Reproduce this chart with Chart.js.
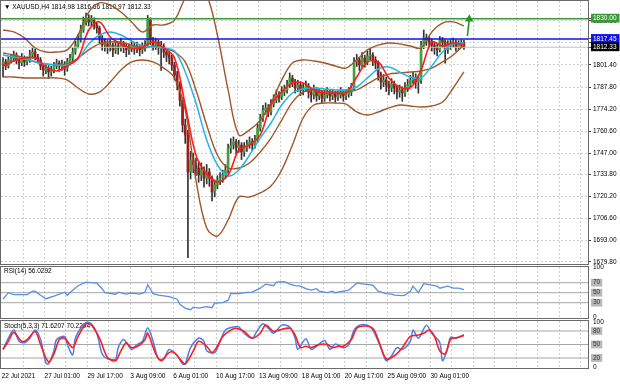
<!DOCTYPE html>
<html><head><meta charset="utf-8">
<script src="https://cdn.jsdelivr.net/npm/chart.js@4.4.1/dist/chart.umd.min.js"></script>
<style>
html,body{margin:0;padding:0;background:#fff;}
body{width:620px;height:384px;position:relative;overflow:hidden;}
canvas{position:absolute;left:0;display:block;}
</style></head><body>
<canvas id="cMain" width="620" height="265" style="top:0;width:620px;height:265px"></canvas>
<canvas id="cRsi" width="620" height="57" style="top:262px;width:620px;height:57px"></canvas>
<canvas id="cSto" width="620" height="68" style="top:316px;width:620px;height:68px"></canvas>
<script>
// ---------------- DATA ----------------
const symbolTitle = '\u25BC XAUUSD,H4 1814.98 1816.66 1810.97 1812.33';
const rsiTitle = 'RSI(14) 56.0292';
const stochTitle = 'Stoch(5,3,3) 71.6207 70.2294';

const openP = [1802.0,1803.3,1800.8,1804.5,1805.7,1807.6,1804.5,1802.6,1805.7,1803.3,
1804.5,1807.6,1809.4,1806.3,1804.5,1800.8,1798.3,1799.5,1797.1,1798.3,
1800.8,1802.6,1800.8,1802.0,1799.5,1803.3,1805.7,1809.4,1813.7,1816.8,
1823.0,1828.0,1830.4,1828.0,1829.2,1826.1,1824.2,1818.1,1813.7,1814.4,
1812.5,1813.7,1810.7,1813.1,1811.9,1814.4,1812.5,1810.7,1811.9,1813.1,
1811.3,1812.5,1810.7,1811.9,1813.7,1829.2,1816.8,1813.7,1815.6,1811.9,
1813.1,1809.4,1807.6,1805.7,1801.4,1795.2,1789.1,1779.8,1764.4,1758.2,
1735.3,1742.8,1739.7,1737.8,1733.5,1736.6,1731.6,1735.3,1731.6,1723.0,
1727.3,1730.4,1731.6,1733.5,1736.6,1750.2,1752.0,1753.9,1750.2,1752.0,
1747.7,1750.2,1752.0,1753.9,1752.0,1755.1,1762.5,1768.7,1773.6,1774.9,
1772.4,1777.3,1779.8,1782.9,1781.6,1784.7,1786.0,1789.1,1793.4,1790.9,
1787.2,1789.1,1786.0,1787.2,1788.4,1784.7,1782.9,1786.0,1782.3,1784.1,
1781.0,1782.9,1784.7,1782.3,1783.5,1781.6,1782.9,1784.7,1782.3,1783.5,
1784.7,1787.2,1803.3,1804.5,1801.4,1805.7,1803.3,1806.9,1807.6,1804.5,
1802.6,1795.2,1790.9,1792.1,1789.1,1787.2,1789.7,1787.2,1784.7,1786.0,
1784.1,1787.2,1789.1,1792.1,1793.4,1790.9,1792.1,1813.7,1818.1,1816.8,
1815.6,1813.7,1811.9,1810.7,1816.8,1815.6,1810.7,1813.7,1814.4,1815.6,
1812.5,1814.4,1814.98];
const highP = [1806.0,1805.0,1806.5,1808.0,1810.0,1809.0,1806.0,1808.5,1807.0,1806.5,
1810.5,1812.0,1811.0,1808.0,1806.0,1802.5,1802.0,1801.0,1800.5,1803.0,
1805.0,1804.0,1804.5,1803.5,1805.5,1808.0,1812.0,1816.0,1820.0,1826.0,
1831.0,1833.5,1832.5,1832.0,1830.5,1828.0,1825.5,1819.5,1817.5,1816.5,
1817.0,1815.0,1816.5,1815.5,1818.0,1816.0,1814.5,1814.5,1816.0,1815.0,
1815.5,1814.0,1815.0,1816.5,1832.0,1830.5,1818.5,1818.0,1817.0,1816.0,
1814.5,1811.5,1810.0,1807.5,1803.0,1797.5,1791.0,1781.5,1768.0,1761.0,
1748.0,1747.0,1744.0,1741.5,1741.0,1738.5,1740.0,1737.5,1733.0,1730.5,
1733.0,1735.0,1736.5,1740.0,1752.5,1756.0,1757.0,1755.5,1755.0,1753.5,
1753.5,1755.0,1757.0,1756.0,1758.0,1765.0,1771.0,1776.5,1778.0,1777.0,
1780.0,1783.0,1786.0,1785.0,1788.0,1789.0,1792.0,1796.5,1795.0,1792.5,
1792.0,1791.0,1790.0,1791.5,1790.0,1787.0,1789.0,1787.5,1787.0,1785.5,
1786.0,1787.5,1786.0,1786.5,1785.0,1785.5,1787.5,1786.0,1786.0,1787.5,
1790.0,1806.0,1808.0,1806.0,1809.0,1807.5,1810.0,1811.5,1809.0,1806.5,
1804.0,1797.0,1795.5,1794.0,1791.5,1793.0,1791.5,1789.0,1789.0,1788.0,
1790.5,1792.5,1795.0,1797.0,1796.0,1795.0,1816.0,1823.0,1820.5,1819.0,
1817.5,1815.5,1814.0,1819.0,1818.5,1817.0,1816.5,1817.0,1818.0,1817.0,
1816.5,1817.0,1816.66];
const lowP = [1794.0,1798.5,1799.5,1802.5,1803.5,1802.0,1799.0,1801.0,1800.5,1801.5,
1803.0,1805.5,1804.5,1802.5,1798.5,1794.5,1796.0,1793.0,1794.5,1796.5,
1799.0,1797.5,1798.0,1795.0,1797.5,1801.5,1804.0,1808.0,1812.0,1815.5,
1821.5,1826.0,1825.5,1825.5,1823.5,1821.0,1815.0,1810.5,1810.0,1808.5,
1810.0,1806.5,1808.5,1808.0,1810.0,1809.0,1806.5,1808.0,1809.5,1808.0,
1809.0,1807.0,1808.5,1810.0,1812.0,1814.0,1810.5,1811.0,1808.0,1798.0,
1806.0,1803.5,1802.0,1798.0,1792.0,1786.0,1776.0,1760.0,1753.0,1682.5,
1731.0,1735.0,1733.0,1729.0,1730.0,1726.0,1728.0,1726.5,1717.5,1720.0,
1725.0,1727.5,1729.0,1731.5,1734.5,1747.0,1749.5,1746.5,1747.5,1743.0,
1745.0,1748.0,1750.0,1748.5,1750.0,1753.5,1760.5,1766.5,1771.0,1769.5,
1770.5,1775.5,1778.0,1778.5,1780.0,1782.5,1784.0,1787.5,1788.0,1784.0,
1785.0,1782.5,1783.0,1785.0,1781.0,1778.5,1780.5,1779.0,1780.0,1777.5,
1779.0,1781.0,1779.0,1780.0,1778.5,1779.5,1781.0,1779.0,1780.0,1781.5,
1782.5,1786.0,1800.5,1798.0,1800.0,1800.0,1801.5,1804.5,1801.0,1799.0,
1792.0,1786.5,1788.0,1785.0,1783.0,1785.0,1783.5,1780.5,1781.5,1779.0,
1782.0,1785.0,1787.5,1790.0,1787.0,1784.0,1790.0,1811.5,1813.5,1812.0,
1810.0,1808.0,1807.0,1809.5,1812.0,1802.5,1808.5,1811.0,1812.5,1810.0,
1811.0,1812.0,1810.97];
const closeP = [1803.3,1800.8,1804.5,1805.7,1807.6,1804.5,1802.6,1805.7,1803.3,1804.5,
1807.6,1809.4,1806.3,1804.5,1800.8,1798.3,1799.5,1797.1,1798.3,1800.8,
1802.6,1800.8,1802.0,1799.5,1803.3,1805.7,1809.4,1813.7,1816.8,1823.0,
1828.0,1830.4,1828.0,1829.2,1826.1,1824.2,1818.1,1813.7,1814.4,1812.5,
1813.7,1810.7,1813.1,1811.9,1814.4,1812.5,1810.7,1811.9,1813.1,1811.3,
1812.5,1810.7,1811.9,1813.7,1829.2,1816.8,1813.7,1815.6,1811.9,1813.1,
1809.4,1807.6,1805.7,1801.4,1795.2,1789.1,1779.8,1764.4,1758.2,1735.3,
1742.8,1739.7,1737.8,1733.5,1736.6,1731.6,1735.3,1731.6,1723.0,1727.3,
1730.4,1731.6,1733.5,1736.6,1750.2,1752.0,1753.9,1750.2,1752.0,1747.7,
1750.2,1752.0,1753.9,1752.0,1755.1,1762.5,1768.7,1773.6,1774.9,1772.4,
1777.3,1779.8,1782.9,1781.6,1784.7,1786.0,1789.1,1793.4,1790.9,1787.2,
1789.1,1786.0,1787.2,1788.4,1784.7,1782.9,1786.0,1782.3,1784.1,1781.0,
1782.9,1784.7,1782.3,1783.5,1781.6,1782.9,1784.7,1782.3,1783.5,1784.7,
1787.2,1803.3,1804.5,1801.4,1805.7,1803.3,1806.9,1807.6,1804.5,1802.6,
1795.2,1790.9,1792.1,1789.1,1787.2,1789.7,1787.2,1784.7,1786.0,1784.1,
1787.2,1789.1,1792.1,1793.4,1790.9,1792.1,1813.7,1818.1,1816.8,1815.6,
1813.7,1811.9,1810.7,1816.8,1815.6,1810.7,1813.7,1814.4,1815.6,1812.5,
1814.4,1814.98,1812.33];

// indicator lines, sampled every 4 bars (bar index in bandIdx)
const bandIdx = [0,4,8,12,16,20,24,28,32,36,40,44,48,52,56,60,64,68,72,76,80,84,88,92,96,100,104,108,112,116,120,124,128,132,136,140,144,148,152,156,160,164,168,172];
const maFast = [1800.8,1803.9,1805.7,1805.7,1800.2,1797.7,1800.8,1805.7,1823.0,1828.0,
1818.7,1814.4,1811.9,1812.5,1815.6,1811.9,1805.7,1776.7,1745.8,1734.1,
1729.2,1733.5,1748.9,1752.0,1758.2,1776.7,1784.7,1790.3,1790.3,1786.0,
1784.1,1784.1,1784.1,1794.0,1803.3,1803.3,1793.4,1787.8,1787.2,1798.3,
1815.6,1813.1,1815.0,1813.7];
const maSlow = [1807.6,1806.3,1805.1,1803.3,1802.0,1801.4,1801.4,1805.1,1814.4,1819.9,
1821.8,1819.9,1816.2,1813.1,1812.5,1811.9,1810.0,1797.1,1777.9,1755.1,
1739.7,1732.9,1736.6,1745.8,1756.3,1765.6,1776.7,1784.1,1786.6,1787.2,
1786.6,1786.0,1786.0,1787.8,1793.4,1798.9,1800.2,1797.1,1794.0,1793.4,
1800.8,1809.4,1814.4,1815.0];
const bbUpper = [1823.0,1821.8,1818.1,1811.9,1809.4,1809.4,1810.7,1819.9,1834.1,1839.7,
1838.4,1834.1,1828.0,1821.8,1826.1,1826.1,1829.2,1842.7,1850.8,1844.6,
1819.9,1786.0,1758.2,1761.3,1767.4,1777.9,1792.1,1802.6,1804.5,1803.9,
1802.6,1800.8,1799.5,1804.5,1810.7,1813.7,1815.0,1814.4,1813.1,1811.9,
1821.8,1827.3,1828.0,1825.5];
const bbMiddle = [1808.8,1807.6,1805.7,1803.3,1802.0,1801.4,1802.0,1805.7,1810.7,1814.4,
1815.6,1815.6,1813.7,1811.9,1813.1,1811.9,1809.4,1803.3,1786.0,1764.4,
1745.8,1737.8,1737.8,1740.9,1747.7,1756.3,1767.4,1778.5,1784.7,1786.0,
1785.4,1784.7,1784.7,1786.0,1789.7,1793.4,1795.8,1796.5,1797.1,1797.7,
1799.5,1803.3,1807.6,1813.7];
const bbLower = [1794.0,1794.0,1793.4,1793.4,1793.4,1793.4,1792.1,1787.2,1783.5,1784.7,
1790.9,1798.3,1803.3,1804.5,1803.3,1799.5,1793.4,1773.6,1730.4,1700.8,
1695.8,1705.7,1719.9,1719.9,1722.4,1726.7,1736.6,1752.0,1768.7,1776.7,
1777.9,1777.9,1777.3,1772.4,1770.5,1772.4,1774.9,1776.7,1776.1,1775.5,
1776.1,1778.5,1787.2,1797.1];

const levelGreen = 1830.00, levelBlue = 1817.45, lastPrice = 1812.33;
const arrowIdx = [173.3, 174.0], arrowVal = [1819.3, 1829.8];
const priceTicks = [1828.60,1815.00,1801.40,1787.80,1774.20,1760.60,1747.00,1733.80,1720.20,1706.60,1693.00,1679.80];

const rsiIdx = [0,2,4,9,11,12,14,16,19,21,23,24,26,28,31,35,37,38,42,43,46,48,51,53,54,56,58,62,65,66,68,70,71,73,76,78,79,82,84,85,88,90,93,96,98,101,102,105,107,109,111,113,115,117,118,121,123,124,127,129,132,135,138,140,143,145,146,149,150,152,153,155,157,160,162,163,166,168,170,172];
const rsiVal = [37,50,46,46,53,53,45,38,43,47,51,45,55,64,71,69,58,50,47,51,47,49,47,51,66,48,45,42,37,27,19,16,21,19,22,20,29,30,35,48,48,50,51,59,67,64,71,72,67,64,63,58,55,58,53,50,53,50,53,55,69,67,65,53,48,47,45,44,45,53,63,50,68,65,63,59,63,59,59,56.03];
const rsiLevels = [70, 50, 30];

const kIdx = [0,2,4,6,8,10,12,14,16,17,19,20,23,24,26,27,29,31,33,35,37,39,42,43,45,48,50,52,54,56,58,60,62,65,67,68,70,73,75,76,79,81,83,86,88,90,93,95,97,99,101,104,107,109,110,113,115,117,120,122,124,127,129,131,133,136,138,141,143,145,147,149,152,153,155,158,160,163,164,166,167,169,172];
const kVal = [39,64,82,57,54,64,82,61,9,7,36,61,68,50,27,64,86,99,96,75,29,18,18,43,61,39,50,57,87,57,18,18,39,25,7,7,43,64,57,36,32,57,82,89,89,75,64,82,96,86,75,93,89,64,39,63,39,46,59,39,51,43,49,82,93,93,82,43,14,25,43,39,57,82,64,93,75,54,14,43,66,64,71.62];
const dIdx = [0,2,4,7,9,12,14,17,19,21,23,26,28,31,33,36,39,42,44,46,48,51,53,54,57,59,62,64,66,68,71,73,76,78,80,82,85,87,90,93,96,98,101,103,107,109,111,113,115,118,121,123,125,127,130,132,135,138,140,143,146,149,152,155,157,159,161,163,165,167,170,172];
const dVal = [39,57,77,57,61,79,50,11,29,61,64,43,68,96,93,64,21,14,36,54,43,49,61,75,29,14,32,32,18,7,36,57,46,32,46,68,82,86,79,64,75,93,79,82,86,71,43,46,43,50,50,43,46,46,61,86,91,86,61,18,25,43,68,71,75,82,68,36,29,61,66,70.23];
const stochLevels = [80, 50, 20];

const dateTickIdx = [-0.5,15.5,31.5,47.5,63.5,79.5,95.5,111.5,127.5,143.5,159.5];
const dateLabels = ['22 Jul 2021','27 Jul 01:00','29 Jul 17:00','3 Aug 09:00','6 Aug 01:00','10 Aug 17:00','13 Aug 09:00','18 Aug 01:00','20 Aug 17:00','25 Aug 09:00','30 Aug 01:00'];

// ---------------- CHARTS ----------------
const FONT = "'Liberation Sans', Arial, sans-serif";
Chart.defaults.font.family = FONT;
Chart.defaults.font.size = 6.5;
Chart.defaults.color = '#000';
Chart.defaults.animation = false;

const X_MIN = -0.75, X_MAX = 218.3;
const gridPos = [];
for (let v = 7.5; v < X_MAX; v += 8) gridPos.push(v);

const BULL = '#3f9f3f', BEAR = '#9c1c1c', WICK = '#333333';
const BROWN = '#a0582a', RED = '#ff1c1c', CYAN = '#22b5e6';
const GREEN = '#3a9a3a', BLUE = '#1010f0';

function pts(idx, vals) { return idx.map((x, i) => ({x: x, y: vals[i]})); }
function hline(v) { return [{x: X_MIN, y: v}, {x: X_MAX, y: v}]; }

function xScale(showLabels) {
  const s = {
    type: 'linear', min: X_MIN, max: X_MAX, offset: false,
    afterBuildTicks(sc) {
      const set = new Set(gridPos.concat(dateTickIdx));
      sc.ticks = Array.from(set).sort((a, b) => a - b).map(v => ({value: v}));
    },
    afterFit(sc) {
      sc.paddingLeft = 0; sc.paddingRight = 0;
      if (showLabels) sc.height = 16;
    },
    grid: { offset: false, color: c => (c.tick && c.tick.value < 0) ? 'rgba(0,0,0,0)' : '#cfcfcf', drawTicks: false, lineWidth: 1 },
    border: { display: false, dash: [2, 2] },
    ticks: {
      display: showLabels, autoSkip: false, maxRotation: 0, minRotation: 0, align: 'start', padding: 4,
      font: {size: 6.5},
      callback: v => { const k = dateTickIdx.indexOf(v); return k >= 0 ? dateLabels[k] : ''; }
    }
  };
  return s;
}

function decor(titleText, dy) {
  return {
    id: 'decor',
    beforeDatasetsDraw(chart) {
      const {ctx, chartArea: a} = chart;
      ctx.save();
      ctx.font = '6.5px ' + FONT;
      ctx.fillStyle = '#000';
      ctx.textBaseline = 'middle';
      ctx.textAlign = 'left';
      ctx.fillText(titleText, a.left + 3, a.top + dy);
      ctx.restore();
    },
    afterDraw(chart) {
      const {ctx, chartArea: a} = chart;
      ctx.save();
      ctx.strokeStyle = '#6a6a6a';
      ctx.lineWidth = 1;
      ctx.strokeRect(a.left - 0.5, a.top - 0.5, a.right - a.left + 1, a.bottom - a.top + 1);
      ctx.restore();
    }
  };
}

const lineBase = { type: 'line', pointRadius: 0, fill: false, spanGaps: true };

// main price chart
const SPECIAL = [levelGreen, levelBlue, lastPrice];
const SPECIAL_BG = ['#3a9a3a', '#1010f0', '#000000'];
new Chart(document.getElementById('cMain'), {
  type: 'line',
  data: { datasets: [
    Object.assign({}, lineBase, { data: pts(arrowIdx, arrowVal), borderColor: '#1f9a1f', borderWidth: 1.6,
      pointRadius: [0, 3.2], pointStyle: 'triangle', pointBackgroundColor: '#1f9a1f', pointBorderColor: '#1f9a1f', order: 1 }),
    Object.assign({}, lineBase, { data: hline(levelBlue), borderColor: BLUE, borderWidth: 1.5, order: 2 }),
    Object.assign({}, lineBase, { data: hline(levelGreen), borderColor: GREEN, borderWidth: 1.5, order: 3 }),
    Object.assign({}, lineBase, { data: pts(bandIdx, maFast), borderColor: RED, borderWidth: 1.6, tension: 0.35, order: 4 }),
    Object.assign({}, lineBase, { data: pts(bandIdx, maSlow), borderColor: CYAN, borderWidth: 1.5, tension: 0.35, order: 5 }),
    Object.assign({}, lineBase, { data: pts(bandIdx, bbUpper), borderColor: BROWN, borderWidth: 1.4, tension: 0.35, order: 6 }),
    Object.assign({}, lineBase, { data: pts(bandIdx, bbMiddle), borderColor: BROWN, borderWidth: 1.4, tension: 0.35, order: 7 }),
    Object.assign({}, lineBase, { data: pts(bandIdx, bbLower), borderColor: BROWN, borderWidth: 1.4, tension: 0.35, order: 8 }),
    Object.assign({}, lineBase, { data: hline(lastPrice), borderColor: '#c4c4c4', borderWidth: 1, order: 9 }),
    { type: 'bar', data: closeP.map((c, i) => ({x: i, y: [openP[i], c]})),
      backgroundColor: closeP.map((c, i) => c >= openP[i] ? BULL : BEAR), barThickness: 2, stack: 'c', order: 19 },
    { type: 'bar', data: closeP.map((c, i) => ({x: i, y: [lowP[i], highP[i]]})),
      backgroundColor: WICK, barThickness: 1, stack: 'c', order: 20 }
  ]},
  options: {
    responsive: false, devicePixelRatio: 1, animation: false,
    layout: { autoPadding: false, padding: {top: 1, bottom: 1, left: 1, right: 0} },
    plugins: { legend: {display: false}, tooltip: {enabled: false} },
    scales: {
      x: xScale(false),
      y: {
        position: 'right', min: 1678.55, max: 1840.9, stacked: false, beginAtZero: false,
        afterFit(s) { s.width = 32; s.paddingTop = 0; s.paddingBottom = 0; },
        afterBuildTicks(s) { s.ticks = priceTicks.concat(SPECIAL).map(v => ({value: v})); },
        grid: { color: c => (c.tick && SPECIAL.includes(c.tick.value)) ? 'rgba(0,0,0,0)' : '#cfcfcf',
                tickColor: '#444', tickLength: 3, drawTicks: true },
        border: { display: false, dash: [2, 2] },
        ticks: {
          autoSkip: false, padding: 2, font: {size: 6.5},
          callback: v => Number(v).toFixed(2),
          color: c => (c.tick && SPECIAL.includes(c.tick.value)) ? '#ffffff' : '#000000',
          showLabelBackdrop: c => !!(c.tick && SPECIAL.includes(c.tick.value)),
          backdropColor: c => { const k = c.tick ? SPECIAL.indexOf(c.tick.value) : -1; return k >= 0 ? SPECIAL_BG[k] : 'rgba(0,0,0,0)'; },
          backdropPadding: {left: 2, right: 3, top: 1, bottom: 0}
        }
      }
    }
  },
  plugins: [decor(symbolTitle, 6)]
});

function oscY(min, max, labels, levels) {
  return {
    position: 'right', min: min, max: max,
    afterFit(s) { s.width = 32; s.paddingTop = 0; s.paddingBottom = 0; },
    afterBuildTicks(s) { s.ticks = labels.map(v => ({value: v})); },
    grid: { color: 'rgba(0,0,0,0)', tickColor: 'rgba(0,0,0,0)', tickLength: 3, drawTicks: true },
    border: { display: false },
    ticks: {
      autoSkip: false, padding: 2, font: {size: 6.5},
      color: c => (c.tick && levels.includes(c.tick.value)) ? '#333' : '#000',
      showLabelBackdrop: c => !!(c.tick && levels.includes(c.tick.value)),
      backdropColor: '#b8b8b8',
      backdropPadding: {left: 2, right: 2, top: 0, bottom: 0},
      callback: v => String(v)
    }
  };
}

// RSI
new Chart(document.getElementById('cRsi'), {
  type: 'line',
  data: { datasets: [
    Object.assign({}, lineBase, { data: pts(rsiIdx, rsiVal), borderColor: '#5a8fe6', borderWidth: 1.3, tension: 0, order: 1 })
  ].concat(rsiLevels.map((v, i) => Object.assign({}, lineBase, { data: hline(v), borderColor: '#a6a6a6', borderWidth: 1, order: 5 + i })))},
  options: {
    responsive: false, devicePixelRatio: 1, animation: false,
    layout: { autoPadding: false, padding: {top: 5, bottom: 1, left: 1, right: 0} },
    plugins: { legend: {display: false}, tooltip: {enabled: false} },
    scales: { x: xScale(false), y: oscY(-0.6, 101.4, [100, 70, 50, 30, 0], rsiLevels) }
  },
  plugins: [decor(rsiTitle, 4)]
});

// Stochastic
new Chart(document.getElementById('cSto'), {
  type: 'line',
  data: { datasets: [
    Object.assign({}, lineBase, { data: pts(dIdx, dVal), borderColor: '#ff1c1c', borderWidth: 1.6, tension: 0.3, order: 1 }),
    Object.assign({}, lineBase, { data: pts(kIdx, kVal), borderColor: '#4a7fe8', borderWidth: 1.5, tension: 0.3, order: 2 })
  ].concat(stochLevels.map((v, i) => Object.assign({}, lineBase, { data: hline(v), borderColor: '#a6a6a6', borderWidth: 1, order: 5 + i })))},
  options: {
    responsive: false, devicePixelRatio: 1, animation: false,
    layout: { autoPadding: false, padding: {top: 5, bottom: 0, left: 1, right: 0} },
    plugins: { legend: {display: false}, tooltip: {enabled: false} },
    scales: { x: xScale(true), y: oscY(-2.2, 102.2, [100, 80, 50, 20, 0], stochLevels) }
  },
  plugins: [decor(stochTitle, 5)]
});
</script>
</body></html>
